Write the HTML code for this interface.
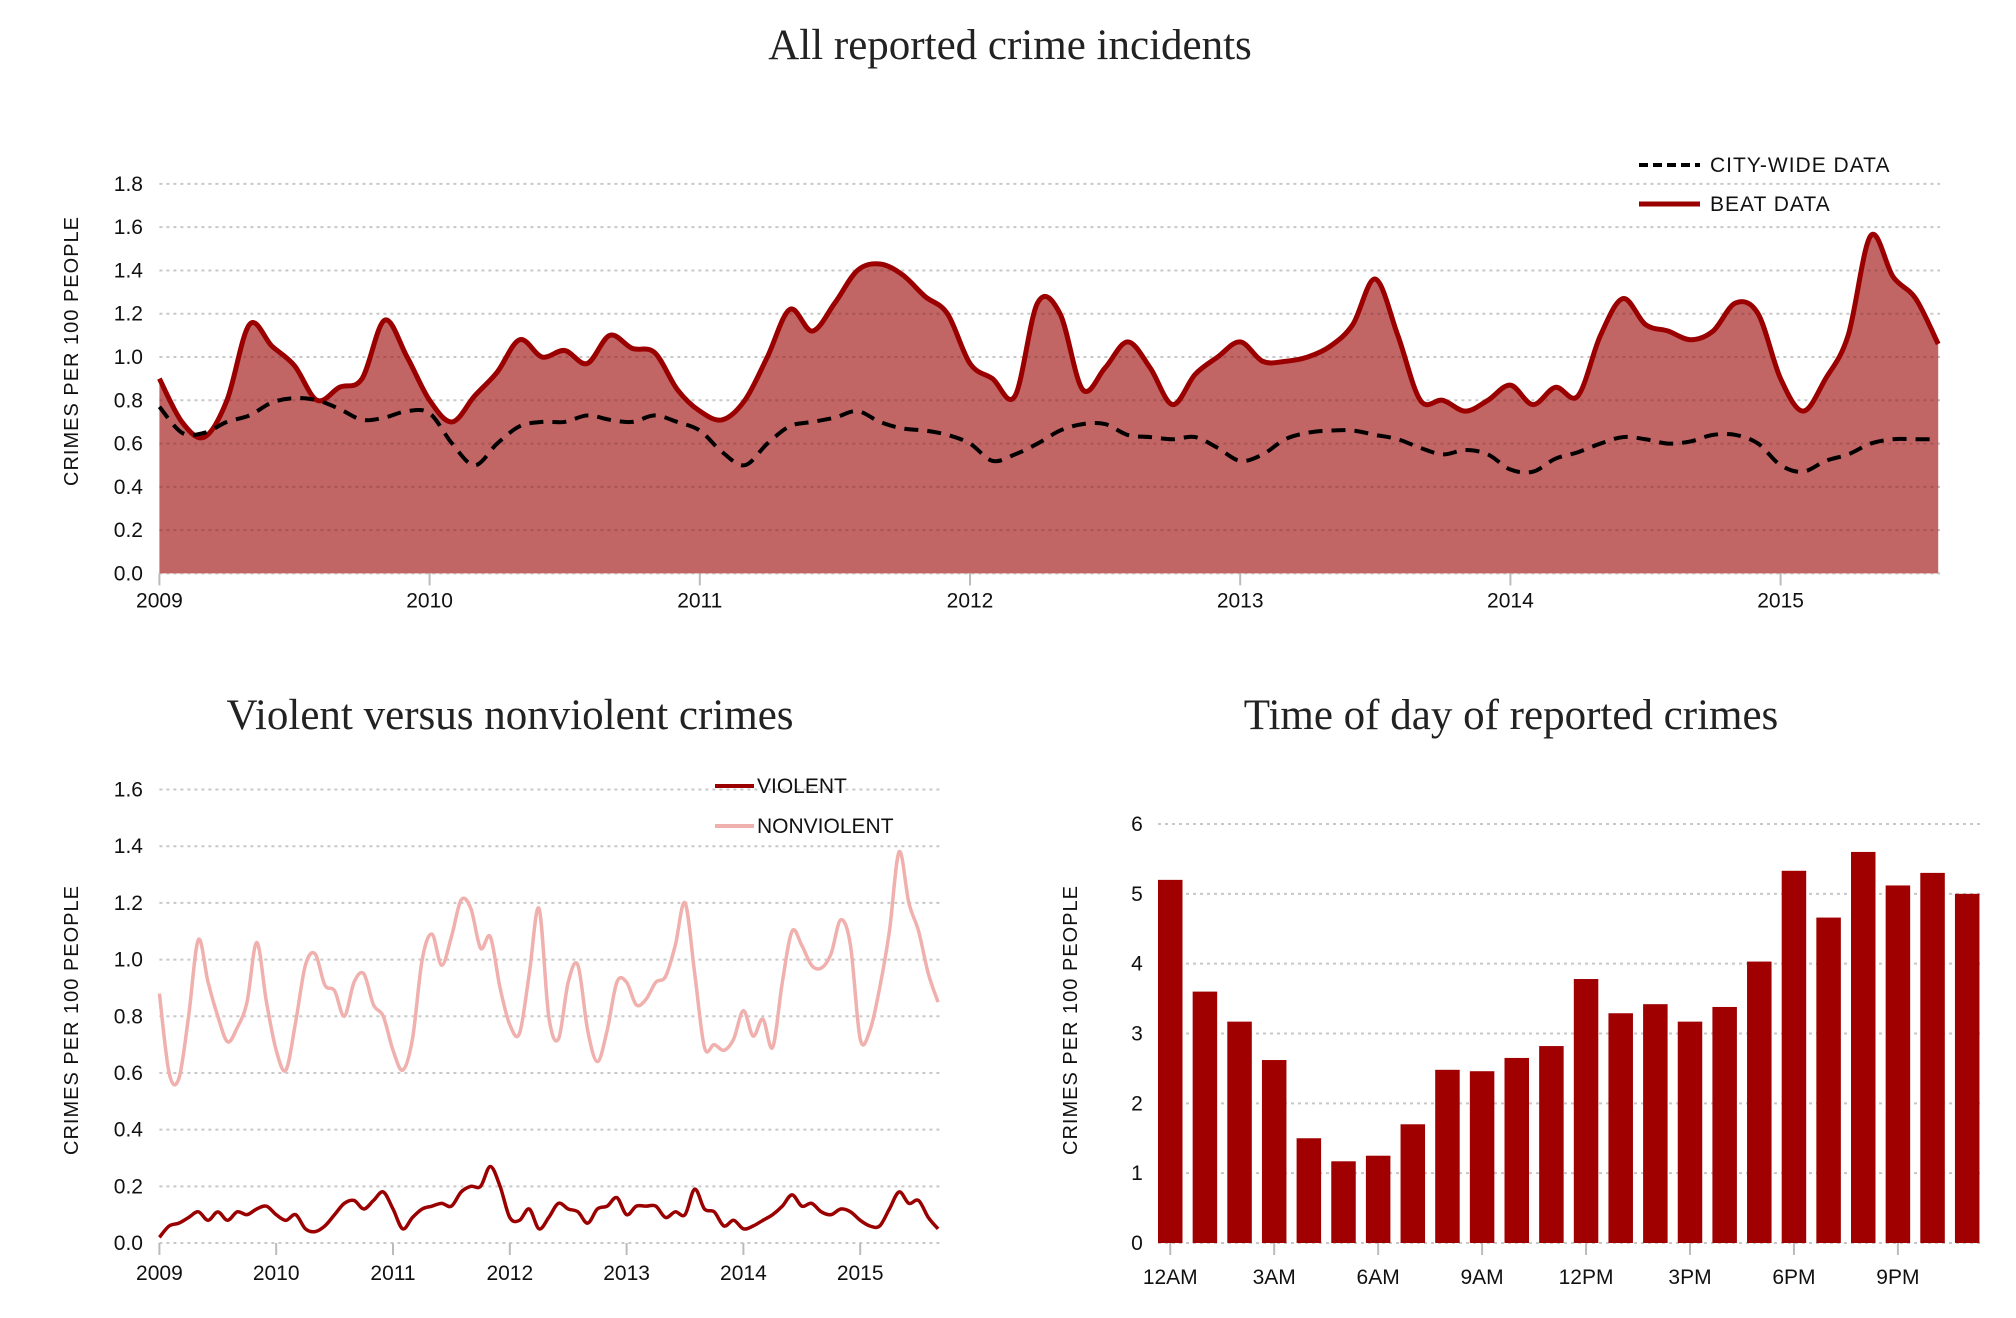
<!DOCTYPE html>
<html><head><meta charset="utf-8"><style>
html,body{margin:0;padding:0;background:#fff;overflow:hidden;}
svg{display:block;}
text{font-family:"Liberation Sans",sans-serif;fill:#111;}
.title{font-family:"Liberation Serif",serif;font-size:43px;text-anchor:middle;fill:#222;}
.tick{font-size:21px;}
.grid{stroke:#c8c8c8;stroke-width:2;stroke-dasharray:3,4;}
.ylab{font-size:20px;text-anchor:middle;letter-spacing:1px;}
</style></head><body>
<svg id="svg" width="2016" height="1318" viewBox="0 0 2016 1318" xmlns="http://www.w3.org/2000/svg">
<text class="title" x="1010" y="59">All reported crime incidents</text>
<text class="title" x="510" y="729">Violent versus nonviolent crimes</text>
<text class="title" x="1511" y="729">Time of day of reported crimes</text>
<g id="top"></g>
<g id="bl"></g>
<g id="br"></g>
</svg>
<script>
const beatData=[.90,.70,.63,.80,1.15,1.05,.96,.80,.86,.90,1.17,1.00,.80,.70,.82,.93,1.08,1.00,1.03,.97,1.10,1.04,1.02,.85,
.75,.71,.80,1.00,1.22,1.12,1.25,1.40,1.43,1.38,1.28,1.20,.97,.90,.82,1.25,1.20,.85,.95,1.07,.95,.78,.92,1.00,
1.07,.98,.98,1.00,1.05,1.15,1.36,1.10,.80,.80,.75,.80,.87,.78,.86,.82,1.10,1.27,1.15,1.12,1.08,1.12,1.25,1.20,
.90,.75,.90,1.10,1.56,1.37,1.27,1.06];
const cityData=[.77,.65,.65,.70,.73,.79,.81,.80,.76,.71,.72,.75,.74,.60,.50,.60,.68,.70,.70,.73,.71,.70,.73,.70,
.66,.56,.50,.60,.68,.70,.72,.75,.70,.67,.66,.64,.60,.52,.55,.60,.66,.69,.69,.64,.63,.62,.63,.58,
.52,.55,.62,.65,.66,.66,.64,.62,.58,.55,.57,.55,.48,.47,.53,.56,.60,.63,.62,.60,.61,.64,.64,.60,
.50,.47,.52,.55,.60,.62,.62,.62];
const nonviolentData=[.88,.60,.58,.80,1.07,.92,.80,.71,.76,.85,1.06,.85,.68,.61,.78,.98,1.02,.91,.89,.80,.92,.95,.84,.80,
.68,.61,.72,1.00,1.09,.98,1.08,1.21,1.18,1.04,1.08,.90,.77,.74,.95,1.18,.80,.72,.92,.98,.75,.64,.75,.92,
.92,.84,.86,.92,.94,1.05,1.20,.95,.69,.70,.68,.72,.82,.73,.79,.69,.92,1.10,1.05,.98,.97,1.02,1.14,1.05,
.72,.75,.90,1.10,1.38,1.20,1.10,.95,.85];
const violentData=[.02,.06,.07,.09,.11,.08,.11,.08,.11,.10,.12,.13,.10,.08,.10,.05,.04,.06,.10,.14,.15,.12,.15,.18,
.12,.05,.09,.12,.13,.14,.13,.18,.20,.20,.27,.20,.09,.08,.12,.05,.09,.14,.12,.11,.07,.12,.13,.16,
.10,.13,.13,.13,.09,.11,.10,.19,.12,.11,.06,.08,.05,.06,.08,.10,.13,.17,.13,.14,.11,.10,.12,.11,
.08,.06,.06,.12,.18,.14,.15,.09,.05];
const hourLabels=['12AM','3AM','6AM','9AM','12PM','3PM','6PM','9PM'];
const hourValues=[5.2,3.6,3.17,2.62,1.5,1.17,1.25,1.7,2.48,2.46,2.65,2.82,3.78,3.29,3.42,3.17,3.38,4.03,5.33,4.66,5.6,5.12,5.3,5.0];
const yearLabels=['2009','2010','2011','2012','2013','2014','2015'];
const topTicks=[0,0.2,0.4,0.6,0.8,1.0,1.2,1.4,1.6,1.8];
const blTicks=[0,0.2,0.4,0.6,0.8,1.0,1.2,1.4,1.6];
const brTicks=[0,1,2,3,4,5,6];

const NS='http://www.w3.org/2000/svg';
function mk(tag,attrs,parent,txt){const e=document.createElementNS(NS,tag);for(const k in attrs)e.setAttribute(k,attrs[k]);if(txt!=null)e.textContent=txt;parent.appendChild(e);return e;}
function smooth(pts){let d='M'+pts[0][0]+','+pts[0][1];for(let i=0;i<pts.length-1;i++){const p0=pts[i-1]||pts[i],p1=pts[i],p2=pts[i+1],p3=pts[i+2]||p2;
const t=0.5/3;d+=' C'+(p1[0]+(p2[0]-p0[0])*t)+','+(p1[1]+(p2[1]-p0[1])*t)+' '+(p2[0]-(p3[0]-p1[0])*t)+','+(p2[1]-(p3[1]-p1[1])*t)+' '+p2[0]+','+p2[1];}return d;}

// TOP chart
(function(){
const g=document.getElementById('top');
const x0=159.4,yr=270.2,xr=1940,y0=573.4,ppu=(573.4-183.9)/1.8;
const X=i=>x0+i/12*yr, Y=v=>y0-v*ppu;
topTicks.forEach(t=>{const l=mk('line',{x1:x0,x2:xr,y1:Y(t),y2:Y(t),class:'grid'},g);

const tx=mk('text',{x:143,y:Y(t)+7,class:'tick','text-anchor':'end'},g,t.toFixed(1));
});
const pts=beatData.map((v,i)=>[X(i),Y(v)]);
const line=smooth(pts);
const areaD=line+' L'+X(beatData.length-1)+','+y0+' L'+x0+','+y0+' Z';
const area=mk('path',{d:areaD,fill:'#c26565'},g);

const defs=mk('defs',{},g);
const cp=mk('clipPath',{id:'areaClip'},defs);
mk('path',{d:areaD},cp);
const og=mk('g',{'clip-path':'url(#areaClip)'},g);
topTicks.forEach(t=>{if(t>0){const l=mk('line',{x1:x0,x2:xr,y1:Y(t),y2:Y(t),stroke:'#a85555','stroke-width':2,'stroke-dasharray':'3,4'},og);}});
const bl=mk('path',{d:line,fill:'none',stroke:'#9b0000','stroke-width':5},g);

const cl=mk('path',{d:smooth(cityData.map((v,i)=>[X(i),Y(v)])),fill:'none',stroke:'#000','stroke-width':4,'stroke-dasharray':'14,9'},g);

yearLabels.forEach((y,i)=>{const t=mk('line',{x1:x0+i*yr,x2:x0+i*yr,y1:y0,y2:y0+12,stroke:'#bbb','stroke-width':2},g);

const tx=mk('text',{x:x0+i*yr,y:y0+34,class:'tick','text-anchor':'middle'},g,y);
});
const yl=mk('text',{class:'ylab',transform:'translate(78,351) rotate(-90)'},g,'CRIMES PER 100 PEOPLE');

const l1=mk('line',{x1:1639,x2:1700,y1:165,y2:165,stroke:'#000','stroke-width':4,'stroke-dasharray':'9,5'},g);

const t1=mk('text',{x:1710,y:172,class:'tick','letter-spacing':'1'},g,'CITY-WIDE DATA');

const l2=mk('line',{x1:1639,x2:1700,y1:204,y2:204,stroke:'#9b0000','stroke-width':5},g);

const t2=mk('text',{x:1710,y:211,class:'tick','letter-spacing':'1'},g,'BEAT DATA');

})();

// BOTTOM-LEFT chart
(function(){
const g=document.getElementById('bl');
const x0=159.4,yr=116.8,xr=940,y0=1243,ppu=(1243-789.5)/1.6;
const X=i=>x0+i/12*yr, Y=v=>y0-v*ppu;
blTicks.forEach(t=>{const l=mk('line',{x1:x0,x2:xr,y1:Y(t),y2:Y(t),class:'grid'},g);

const tx=mk('text',{x:143,y:Y(t)+7,class:'tick','text-anchor':'end'},g,t.toFixed(1));
});
const nl=mk('path',{d:smooth(nonviolentData.map((v,i)=>[X(i),Y(v)])),fill:'none',stroke:'#f0b0ad','stroke-width':3.5},g);

const vl=mk('path',{d:smooth(violentData.map((v,i)=>[X(i),Y(v)])),fill:'none',stroke:'#9b0000','stroke-width':3.5},g);

yearLabels.forEach((y,i)=>{const t=mk('line',{x1:x0+i*yr,x2:x0+i*yr,y1:y0,y2:y0+12,stroke:'#bbb','stroke-width':2},g);

const tx=mk('text',{x:x0+i*yr,y:y0+37,class:'tick','text-anchor':'middle'},g,y);
});
const yl=mk('text',{class:'ylab',transform:'translate(78,1020) rotate(-90)'},g,'CRIMES PER 100 PEOPLE');

const l1=mk('line',{x1:715,x2:754,y1:786,y2:786,stroke:'#9b0000','stroke-width':4},g);

const t1=mk('text',{x:757,y:793,class:'tick',fill:'#333'},g,'VIOLENT');

const l2=mk('line',{x1:715,x2:754,y1:826,y2:826,stroke:'#f0b0ad','stroke-width':4},g);

const t2=mk('text',{x:757,y:833,class:'tick',fill:'#333'},g,'NONVIOLENT');

})();

// BOTTOM-RIGHT bar chart
(function(){
const g=document.getElementById('br');
const x0=1158,step=34.65,bw=24.5,xr=1980,y0=1243,ppu=(1243-824)/6;
const Y=v=>y0-v*ppu;
brTicks.forEach(t=>{const l=mk('line',{x1:x0,x2:xr,y1:Y(t),y2:Y(t),class:'grid'},g);

const tx=mk('text',{x:1137,y:Y(t)+7,class:'tick','text-anchor':'middle'},g,String(t));
});
hourValues.forEach((v,i)=>{const r=mk('rect',{x:x0+i*step,y:Y(v),width:bw,height:v*ppu,fill:'#a00000'},g);
});
hourLabels.forEach((h,i)=>{const cx=x0+bw/2+i*3*step;
const t=mk('line',{x1:cx,x2:cx,y1:y0,y2:y0+12,stroke:'#bbb','stroke-width':2},g);

const tx=mk('text',{x:cx,y:y0+41,class:'tick','text-anchor':'middle'},g,h);
});
const yl=mk('text',{class:'ylab',transform:'translate(1077,1020) rotate(-90)'},g,'CRIMES PER 100 PEOPLE');

})();
</script>
</body></html>
